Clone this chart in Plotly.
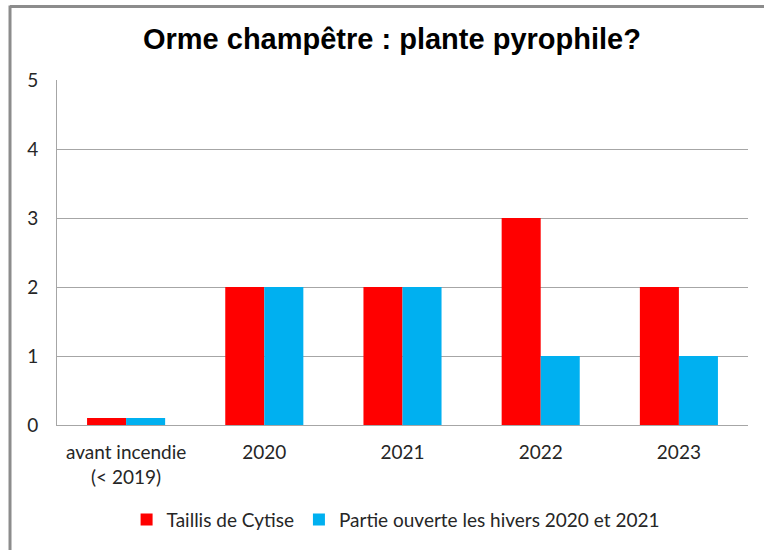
import plotly.graph_objects as go

categories = ["avant incendie<br>(< 2019)", "2020", "2021", "2022", "2023"]
taillis_cytise = [0.1, 2, 2, 3, 2]
partie_ouverte = [0.1, 2, 2, 1, 1]

font_texte = "Lato, 'Open Sans', sans-serif"

fig = go.Figure()

fig.add_trace(go.Bar(x=categories, y=taillis_cytise, name="Taillis de Cytise",
                     marker=dict(color="#FF0000", line=dict(width=0))))
fig.add_trace(go.Bar(x=categories, y=partie_ouverte, name="Partie ouverte les hivers 2020 et 2021",
                     marker=dict(color="#00B0F0", line=dict(width=0))))

# cadre gris du graphique (en haut et à gauche)
fig.add_shape(type="line", xref="paper", yref="paper", x0=-0.068, x1=1.05, y0=1.213, y1=1.213,
              line=dict(color="#8c8c8c", width=3))
fig.add_shape(type="line", xref="paper", yref="paper", x0=-0.068, x1=-0.068, y0=-0.4, y1=1.216,
              line=dict(color="#8c8c8c", width=3))

fig.update_layout(
    width=764,
    height=550,
    margin=dict(l=57, r=16, t=80, b=123),
    paper_bgcolor="white",
    plot_bgcolor="white",
    barmode="group",
    bargap=0.435,
    bargroupgap=0,
    title=dict(text="<b>Orme champêtre : plante pyrophile?</b>",
               font=dict(family="Liberation Sans, Arial, sans-serif", size=29, color="black"),
               x=0.513, xanchor="center", y=0.93, yanchor="middle"),
    xaxis=dict(showgrid=False, showline=True, linecolor="#a6a6a6", linewidth=1,
               ticks="", tickfont=dict(family=font_texte, size=19, color="#262626"),
               ticklabelstandoff=10),
    yaxis=dict(range=[0, 5], dtick=1, showgrid=True, gridcolor="#a6a6a6", gridwidth=1,
               showline=True, linecolor="#a6a6a6", linewidth=1, zeroline=False,
               ticks="", tickfont=dict(family=font_texte, size=19, color="#262626"),
               ticklabelstandoff=14),
    legend=dict(orientation="h", x=0.49, xanchor="center", y=-0.274, yanchor="middle",
                font=dict(family=font_texte, size=19, color="#262626"),
                itemwidth=30, tracegroupgap=0),
    showlegend=True,
)

fig.write_html("out.html", config={"displayModeBar": False},
               post_script="document.body.style.margin='0';")
